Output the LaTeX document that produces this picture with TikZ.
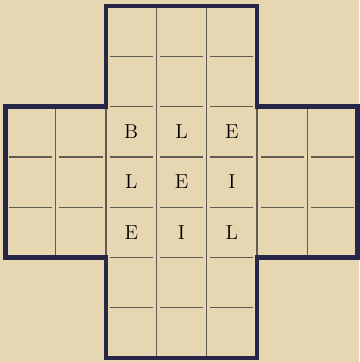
\documentclass[tikz,border=0pt]{standalone}
\usetikzlibrary{calc}

\definecolor{paper}{RGB}{231,214,178}
\definecolor{frame}{RGB}{40,38,72}
\definecolor{rule}{RGB}{96,91,80}

\tikzset{
  cross/.style={line width=2.5pt, frame, line join=miter},
  cellrule/.style={line width=0.7pt, rule},
  letter/.style={inner sep=0pt, font=\fontsize{11.5}{13}\selectfont, text=black}
}

\begin{document}
\begin{tikzpicture}
  \fill[paper] (0, 0) rectangle (7.18, -7.24);
  \useasboundingbox (0, 0) rectangle (7.18, -7.24);
  \begin{scope}[shift={(0.11, -0.12)}, x=1.006cm, y=-1.006cm]
    % vertical rules
    \foreach \i in {3, 4} \draw[cellrule] (\i, 0) -- (\i, 7);
    \foreach \i in {1, 2, 5, 6} \draw[cellrule] (\i, 2) -- (\i, 5);
    % horizontal rules, one piece per cell
    \foreach \j in {3, 4}
      \foreach \i in {0, ..., 6} \draw[cellrule] (\i + 0.07, \j) -- (\i + 0.93, \j);
    \foreach \j in {1, 2, 5, 6}
      \foreach \i in {2, 3, 4} \draw[cellrule] (\i + 0.07, \j) -- (\i + 0.93, \j);
    % outline of the cross
    \draw[cross] (2, 0) -- (5, 0) -- (5, 2) -- (7, 2) -- (7, 5) -- (5, 5)
      -- (5, 7) -- (2, 7) -- (2, 5) -- (0, 5) -- (0, 2) -- (2, 2) -- cycle;
    % letters
    \node[letter] (b11) at (2.5, 2.5) {B};
    \node[letter] (b12) at (3.5, 2.5) {L};
    \node[letter] (b13) at (4.5, 2.5) {E};
    \node[letter] (b21) at (2.5, 3.5) {L};
    \node[letter] (b22) at (3.5, 3.5) {E};
    \node[letter] (b23) at (4.5, 3.5) {I};
    \node[letter] (b31) at (2.5, 4.5) {E};
    \node[letter] (b32) at (3.5, 4.5) {I};
    \node[letter] (b33) at (4.5, 4.5) {L};
  \end{scope}
\end{tikzpicture}
\end{document}
